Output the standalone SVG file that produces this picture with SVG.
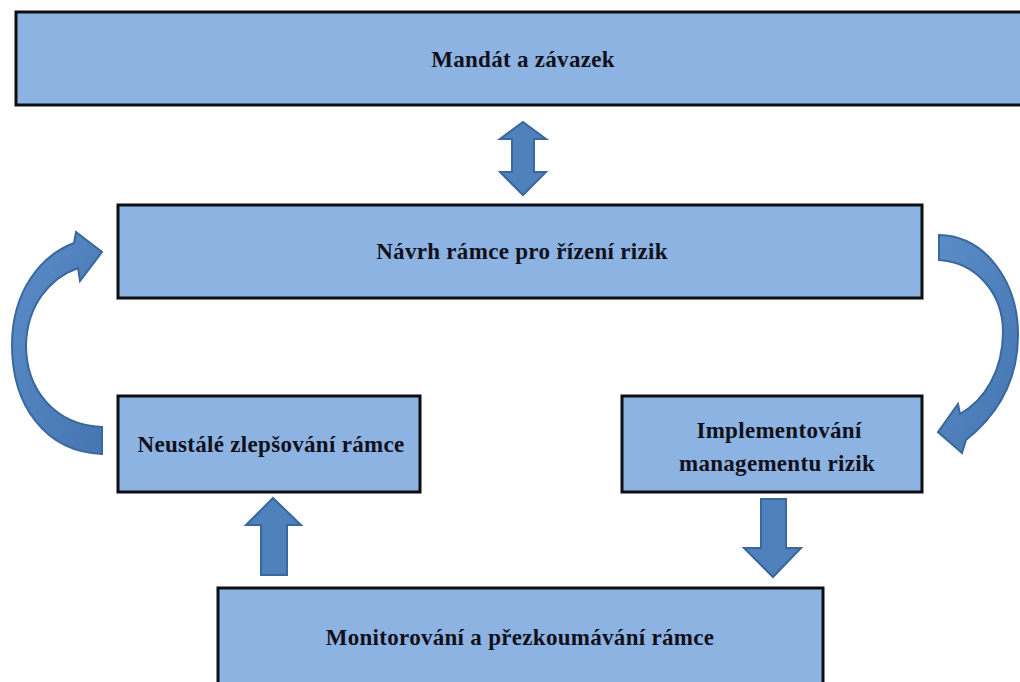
<svg xmlns="http://www.w3.org/2000/svg" width="1020" height="682" viewBox="0 0 1020 682">
<defs>
<style>
.box{fill:#8DB3E2;stroke:#0d0d14;stroke-width:3}
.lbl{font-family:"Liberation Serif","Times New Roman",serif;font-weight:bold;font-size:23px;letter-spacing:0.3px;fill:#10101a;text-anchor:middle}
.arr{fill:#4F81BD;stroke:#3A679E;stroke-width:2;stroke-linejoin:miter}
</style>
<linearGradient id="g" x1="0" y1="0" x2="1" y2="1">
<stop offset="0" stop-color="#5A8CC8"/>
<stop offset="1" stop-color="#4576B2"/>
</linearGradient>
</defs>
<rect width="1020" height="682" fill="#ffffff"/>
<g id="connectors">
<path class="arr" d="M523,122 L546,139 L534,139 L534,172 L546,172 L523,195 L500,172 L512,172 L512,139 L500,139 Z"/>
<path class="arr" d="M273,498 L301,525 L287,525 L287,575 L261,575 L261,525 L246,525 Z"/>
<path class="arr" d="M761,499 L786,499 L786,548 L801,548 L773,577 L744,548 L761,548 Z"/>
<path class="arr" style="fill:url(#g)" d="M102,454 C45,452 12,405 12,345 C12,292 40,256 74,243 L76,232 L102,252 L80,281 L78,268 C50,278 27,305 26,345 C26,390 55,425 102,427 Z"/>
<path class="arr" style="fill:url(#g)" d="M939,235 C986,236 1018,282 1018,335 C1018,382 996,416 966,440 L962,453 L938,432 L958,404 L960,414 C985,400 1003,370 1003,332 C1003,292 975,262 939,260 Z"/>
</g>
<g id="node-mandat">
<rect class="box" x="16" y="12" width="1010" height="93"/>
<text class="lbl" x="523" y="67">Mandát a závazek</text>
</g>
<g id="node-navrh">
<rect class="box" x="118" y="205" width="804" height="93"/>
<text class="lbl" x="522" y="259">Návrh rámce pro řízení rizik</text>
</g>
<g id="node-neustale">
<rect class="box" x="118" y="396" width="302" height="96"/>
<text class="lbl" x="271" y="452">Neustálé zlepšování rámce</text>
</g>
<g id="node-implementovani">
<rect class="box" x="622" y="396" width="300" height="96"/>
<text class="lbl" x="779" y="438">Implementování</text>
<text class="lbl" x="777" y="471">managementu rizik</text>
</g>
<g id="node-monitorovani">
<rect class="box" x="218" y="588" width="605" height="100"/>
<text class="lbl" x="520" y="645">Monitorování a přezkoumávání rámce</text>
</g>
</svg>
